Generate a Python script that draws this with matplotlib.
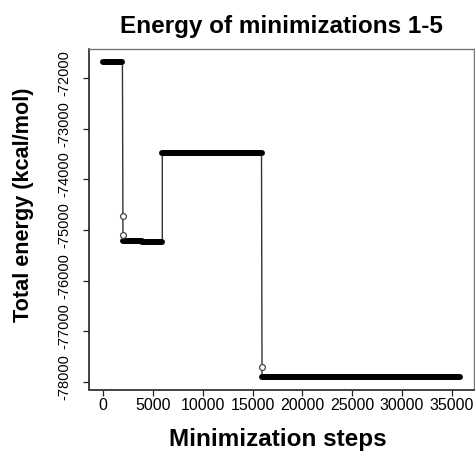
import numpy as np
import matplotlib
matplotlib.use("Agg")
import matplotlib.pyplot as plt
from matplotlib.transforms import ScaledTranslation

plt.rcParams['font.family'] = ['Liberation Sans', 'DejaVu Sans']

# Energy plateaus reached by each minimization: (first step, last step, energy)
plateau_start = [0, 2000, 3900, 5950, 15950]
plateau_end = [1950, 3900, 5950, 15900, 35800]
plateau_energy = [-71680, -75215, -75240, -73490, -77900]

# Isolated intermediate points recorded while switching between runs
transition_steps = [2000, 2000, 15950]
transition_energy = [-74730, -75100, -77700]

x_ticks = [0, 5000, 10000, 15000, 20000, 25000, 30000, 35000]
y_ticks = [-78000, -77000, -76000, -75000, -74000, -73000, -72000]

W, H = 475, 453
fig = plt.figure(figsize=(W / 100, H / 100), dpi=100)

# R-style axis limits: data range padded by 4% on each side
xs = plateau_start + plateau_end + transition_steps
ys = plateau_energy + transition_energy
xmin, xmax = min(xs), max(xs)
ymin, ymax = min(ys), max(ys)
xpad = 0.04 * (xmax - xmin)
ypad = 0.04 * (ymax - ymin)

left_px, right_px, top_px, bottom_px = 88.7, 474.2, 49.2, 389.5
ax = fig.add_axes([left_px / W, 1 - bottom_px / H,
                   (right_px - left_px) / W, (bottom_px - top_px) / H])
ax.set_xlim(xmin - xpad, xmax + xpad)
ax.set_ylim(ymin - ypad, ymax + ypad)

# Thin trace joining the runs in step order
trace_x, trace_y = [], []
for i, (s, e, v) in enumerate(zip(plateau_start, plateau_end, plateau_energy)):
    trace_x += [s, e]
    trace_y += [v, v]
    if i == 0:
        trace_x += transition_steps[:2]
        trace_y += transition_energy[:2]
    if i == 3:
        trace_x += transition_steps[2:]
        trace_y += transition_energy[2:]
ax.plot(trace_x, trace_y, color='#333333', lw=1.0, zorder=2)

# Dense plateaus of sampled points
for s, e, v in zip(plateau_start, plateau_end, plateau_energy):
    ax.plot([s, e], [v, v], color='black', lw=4.3, solid_capstyle='round', zorder=3)

ax.plot(transition_steps, transition_energy, linestyle='none', marker='o',
        markersize=4.2, markerfacecolor='white', markeredgecolor='#444444',
        markeredgewidth=0.9, zorder=4)

ax.set_xticks(x_ticks)
ax.set_xticklabels([str(t) for t in x_ticks])
ax.set_yticks(y_ticks)
ax.set_yticklabels([str(t) for t in y_ticks], rotation=90, va='center')
ax.tick_params(axis='both', direction='out', length=4.3, width=0.9, color='#222222',
               labelcolor='black')
ax.tick_params(axis='x', pad=1.5, labelsize=11.5)
ax.tick_params(axis='y', pad=8, labelsize=10.5)

# nudge the rotated energy labels slightly upward
lift = ScaledTranslation(0, 5 / 100, fig.dpi_scale_trans)
for lbl in ax.get_yticklabels():
    lbl.set_transform(lbl.get_transform() + lift)

for side in ('left', 'bottom'):
    ax.spines[side].set_color('#222222')
    ax.spines[side].set_linewidth(1.2)
for side in ('top', 'right'):
    ax.spines[side].set_color('#777777')
    ax.spines[side].set_linewidth(1.0)

fig.text(281 / W, 1 - 33 / H, 'Energy of minimizations 1-5', ha='center',
         va='baseline', fontsize=17.5, fontweight='bold')
fig.text(278 / W, 1 - 446 / H, 'Minimization steps', ha='center',
         va='baseline', fontsize=17.5, fontweight='bold')
fig.text(24 / W, 1 - 205 / H, 'Total energy (kcal/mol)', ha='center',
         va='center', rotation=90, fontsize=15.6, fontweight='bold')

fig.savefig('out.png', dpi=100)
